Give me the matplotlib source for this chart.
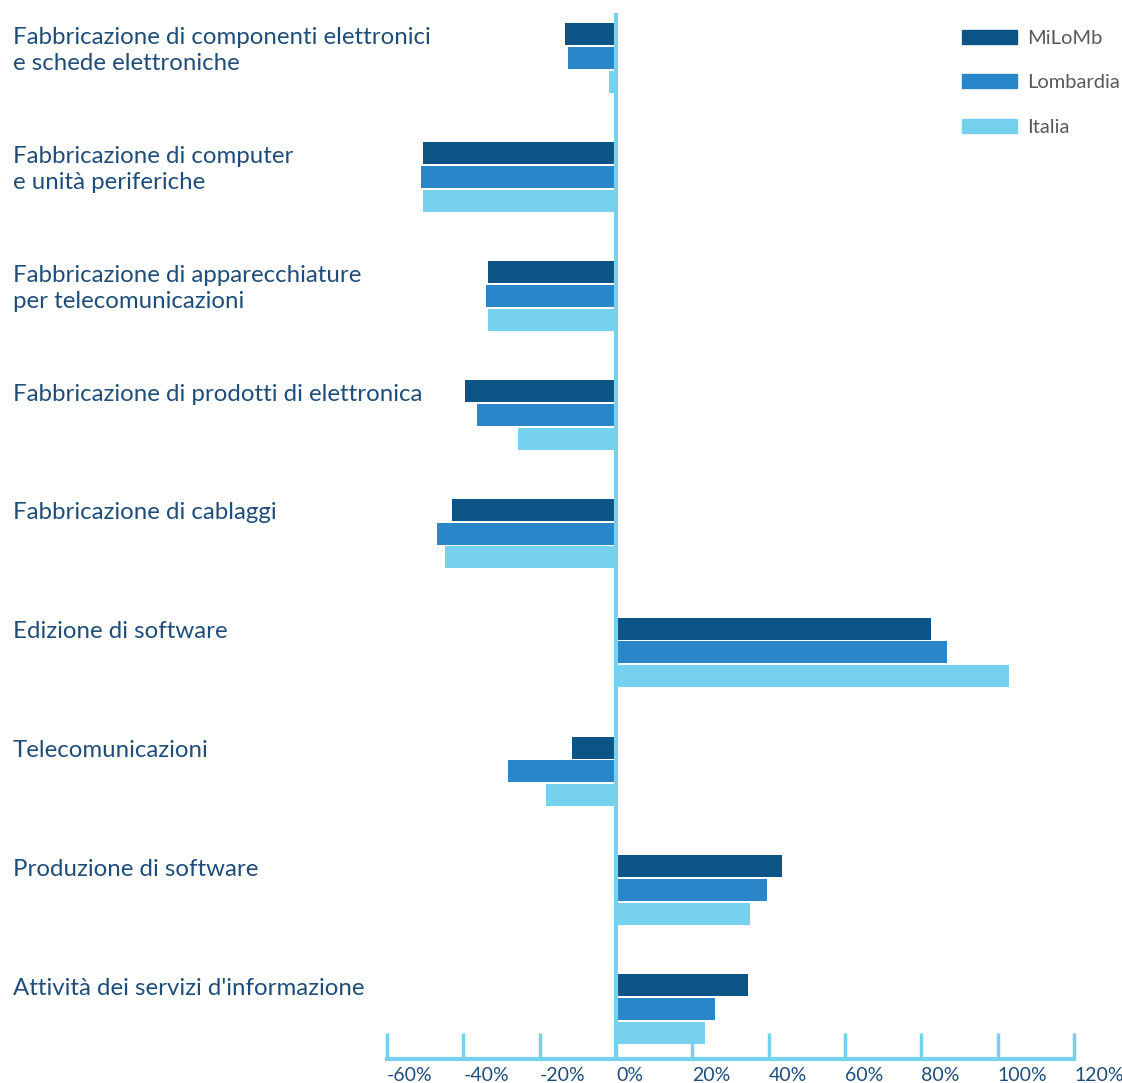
# Variazione addetti per settore ICT: MiLoMb, Lombardia, Italia
import matplotlib
matplotlib.use('Agg')
import matplotlib.pyplot as plt
import matplotlib.patches as mpatches
import matplotlib.transforms as mtransforms
import numpy as np

# Data
categories = ['Fabbricazione di componenti elettronici\ne schede elettroniche',
              'Fabbricazione di computer\ne unità periferiche',
              'Fabbricazione di apparecchiature\nper telecomunicazioni',
              'Fabbricazione di prodotti di elettronica',
              'Fabbricazione di cablaggi',
              'Edizione di software',
              'Telecomunicazioni',
              'Produzione di software',
              "Attività dei servizi d'informazione"]
milomb = [-13.4, -50.6, -33.5, -39.6, -43.0, 82.5, -11.5, 43.5, 34.6]
lombardia = [-12.6, -51.1, -34.1, -36.4, -46.9, 86.7, -28.3, 39.6, 25.9]
italia = [-1.8, -50.6, -33.5, -25.7, -44.8, 103.0, -18.3, 35.1, 23.3]
series_names = ['MiLoMb', 'Lombardia', 'Italia']
xticks = [-60, -40, -20, 0, 20, 40, 60, 80, 100, 120]

colors = ['#0d5486', '#2986c9', '#76d1ee']
axis_color = '#76d1ee'
label_color = '#1f4d7a'
legend_color = '#5a5a5a'

matplotlib.rc('font', family='Lato')

W, H = 1122, 1083
fig = plt.figure(figsize=(W / 100, H / 100), dpi=100)
ax = fig.add_axes([387 / W, 1 - 1059 / H, 687 / W, 1046 / H])

y = np.arange(len(categories))
bar_h = 0.185
step = 0.2
for k, vals in enumerate([milomb, lombardia, italia]):
    ax.barh(y + (k - 1) * step, vals, height=bar_h, color=colors[k], zorder=2)

ax.set_xlim(-60, 120)
ax.set_ylim(8.42, -0.38)

# Zero line
ax.axvline(0, color=axis_color, linewidth=3, zorder=3)

# Axis styling
for side in ['top', 'right', 'left']:
    ax.spines[side].set_visible(False)
ax.spines['bottom'].set_color(axis_color)
ax.spines['bottom'].set_linewidth(3)
ax.set_yticks([])
ax.set_xticks(xticks)
ax.set_xticklabels(['{}%'.format(t) for t in xticks], ha='left')
ax.tick_params(axis='x', direction='in', length=19, width=2.5, color=axis_color,
               labelsize=14, labelcolor=label_color, pad=6)

# Category labels
trans = mtransforms.blended_transform_factory(fig.transFigure, ax.transData)
for i, cat in enumerate(categories):
    ax.text(13 / W, i - step - bar_h / 2 + 0.03, cat, transform=trans, ha='left', va='top',
            fontsize=17.3, color=label_color, linespacing=1.3)

# Legend
handles = [mpatches.Patch(color=c, label=n) for c, n in zip(colors, series_names)]
leg = fig.legend(handles=handles, loc='upper right', bbox_to_anchor=(1120 / W, 1 - 30 / H),
                 frameon=False, fontsize=14.5, handlelength=2.75, handleheight=0.7,
                 labelspacing=1.35, handletextpad=0.5, borderaxespad=0, borderpad=0)
for t in leg.get_texts():
    t.set_color(legend_color)

plt.savefig('out.png', dpi=100)
